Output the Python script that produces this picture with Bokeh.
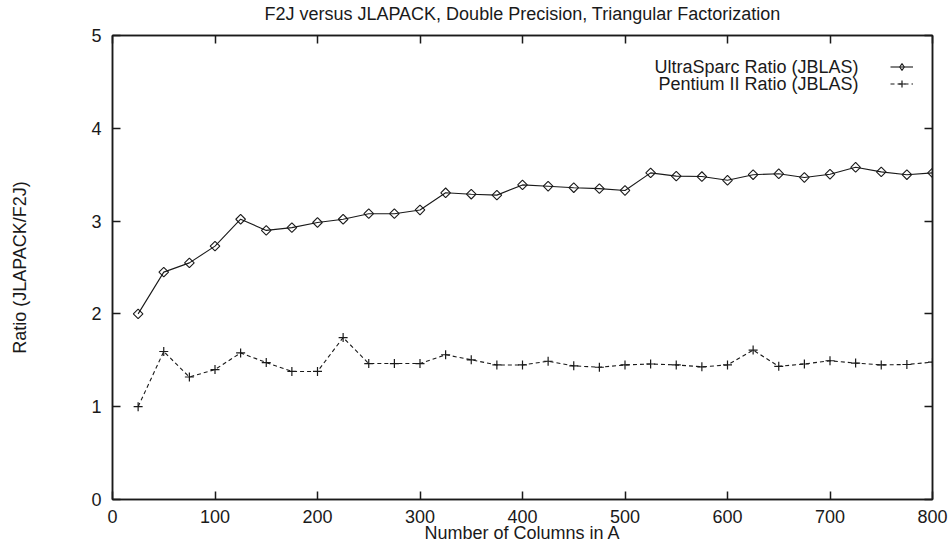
import math
from bokeh.plotting import figure
from bokeh.models import (LinearAxis, Range1d, FixedTicker, Legend, LegendItem,
                          Label)
from bokeh.embed import file_html
from bokeh.resources import INLINE

# ---- data ----
columns = [25, 50, 75, 100, 125, 150, 175, 200, 225, 250, 275, 300, 325, 350,
           375, 400, 425, 450, 475, 500, 525, 550, 575, 600, 625, 650, 675,
           700, 725, 750, 775, 800]
ultrasparc = [2.00, 2.45, 2.55, 2.73, 3.02, 2.90, 2.93, 2.985, 3.02, 3.08,
              3.08, 3.12, 3.305, 3.29, 3.28, 3.39, 3.376, 3.36, 3.35, 3.33,
              3.52, 3.485, 3.48, 3.44, 3.50, 3.51, 3.47, 3.505, 3.58, 3.53,
              3.50, 3.52]
pentium = [1.00, 1.595, 1.32, 1.40, 1.58, 1.476, 1.38, 1.38, 1.745, 1.465,
           1.465, 1.465, 1.56, 1.505, 1.45, 1.45, 1.49, 1.44, 1.425, 1.45,
           1.46, 1.45, 1.43, 1.45, 1.61, 1.435, 1.46, 1.495, 1.47, 1.45,
           1.455, 1.48]
x_ticks = [0, 100, 200, 300, 400, 500, 600, 700, 800]
y_ticks = [0, 1, 2, 3, 4, 5]
title_text = "F2J versus JLAPACK, Double Precision, Triangular Factorization"
x_label = "Number of Columns in A"
y_label = "Ratio (JLAPACK/F2J)"
series_names = ["UltraSparc Ratio (JBLAS)", "Pentium II Ratio (JBLAS)"]

FONT = "Liberation Sans"
FS = "18px"
INK = "#1a1a1a"

p = figure(width=951, height=548, output_backend="svg", toolbar_location=None,
           x_range=Range1d(0, 800), y_range=Range1d(0, 5),
           min_border_left=112, min_border_right=19, min_border_top=35,
           min_border_bottom=49, x_axis_location=None, y_axis_location=None)
p.grid.visible = False
p.outline_line_color = INK
p.outline_line_width = 1.5
p.background_fill_color = "white"
p.border_fill_color = "white"

def style_axis(ax, ticks, show_labels):
    ax.ticker = FixedTicker(ticks=ticks)
    ax.minor_tick_line_color = None
    ax.major_tick_in = 8
    ax.major_tick_out = 0
    ax.major_tick_line_color = INK
    ax.major_tick_line_width = 1.5
    ax.axis_line_color = INK
    ax.axis_line_width = 1.5
    ax.major_label_text_font = FONT
    if show_labels:
        ax.major_label_text_font_size = FS
        ax.major_label_text_color = INK
    else:
        ax.major_label_text_font_size = "1px"
        ax.major_label_text_color = None
        ax.major_label_standoff = 0
    ax.axis_label_text_font = FONT
    ax.axis_label_text_font_size = FS
    ax.axis_label_text_font_style = "normal"
    ax.axis_label_text_color = INK

xb = LinearAxis(axis_label=x_label)
style_axis(xb, x_ticks, True)
xb.major_label_standoff = 10
xb.axis_label_standoff = -3
p.add_layout(xb, "below")

yl = LinearAxis(axis_label=y_label)
style_axis(yl, y_ticks, True)
yl.major_label_standoff = 11
yl.axis_label_standoff = 58
p.add_layout(yl, "left")

# top axis mirrors the x ticks and carries the chart title as its label
xt = LinearAxis(axis_label=title_text)
style_axis(xt, x_ticks, False)
xt.axis_label_standoff = 12
p.add_layout(xt, "above")
yr = LinearAxis()
style_axis(yr, y_ticks, False)
p.add_layout(yr, "right")

# ---- series ----
l1 = p.line(columns, ultrasparc, line_color=INK, line_width=1.1)
m1 = p.scatter(columns, ultrasparc, marker="square", angle=math.pi / 4, size=6.8,
               line_color=INK, line_width=1.1, fill_alpha=0)
l2 = p.line(columns, pentium, line_color=INK, line_width=1.1, line_dash="4 3")
m2 = p.scatter(columns, pentium, marker="cross", size=9,
               line_color=INK, line_width=1.2)
# legend key marker (the legend draws markers unrotated, so use a diamond)
m1_key = p.scatter(columns, ultrasparc, marker="diamond", size=12,
                   line_color=INK, line_width=1.1, fill_alpha=0, visible=False)

leg = Legend(items=[LegendItem(label=" ", renderers=[l1, m1_key]),
                    LegendItem(label=" ", renderers=[l2, m2])],
             location=(778, 407), glyph_width=23, glyph_height=17,
             label_width=0, label_standoff=0, spacing=0, padding=0, margin=0,
             label_text_font_size="8px", label_text_color=None,
             background_fill_alpha=0, border_line_alpha=0)
p.add_layout(leg)

for i, name in enumerate(series_names):
    p.add_layout(Label(x=746, y=433 - 17 * i, x_units="screen", y_units="screen",
                       text=name, text_align="right", text_baseline="middle",
                       text_font=FONT, text_font_size=FS, text_color=INK))

open("out.html", "w").write(file_html(p, INLINE))
